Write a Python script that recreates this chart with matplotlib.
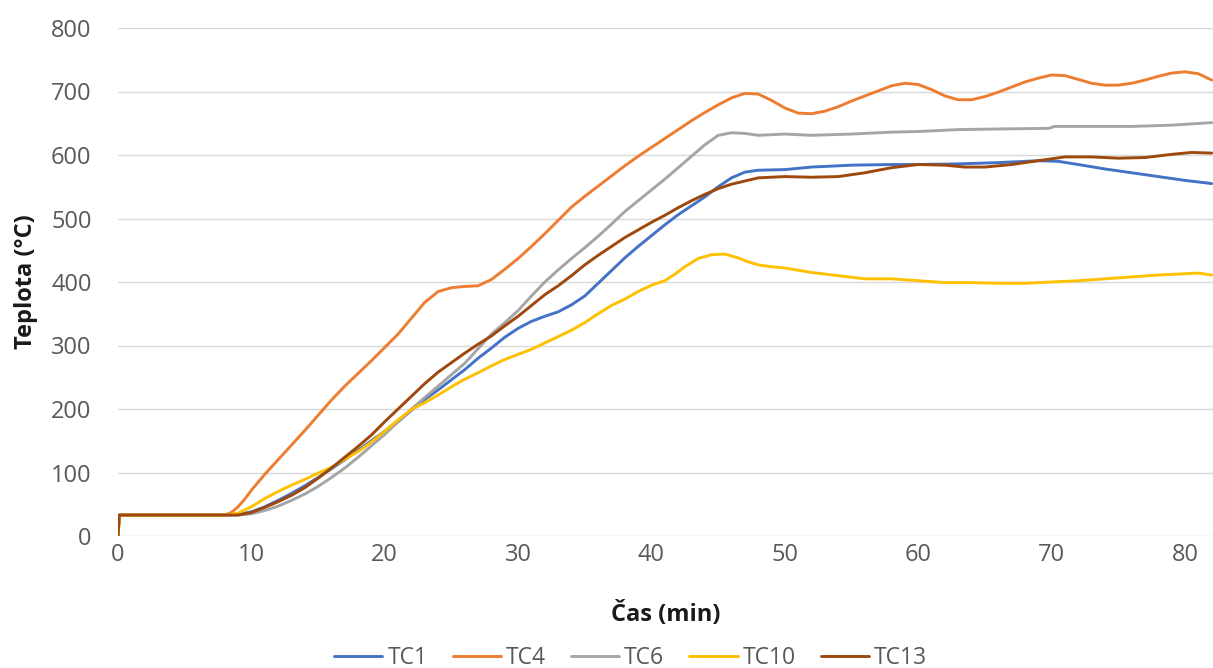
import matplotlib
matplotlib.use("Agg")
import matplotlib.pyplot as plt

# Thermocouple readings: time (min) and temperature (°C)
t_tc1 = [0, 0.1, 8, 9, 10, 11, 12, 13, 14, 15, 16, 17, 18, 19, 20, 21, 22, 23, 24, 25,
         26, 27, 28, 29, 30, 31, 32, 33, 34, 35, 36, 37, 38, 39, 40, 41, 42, 43, 44, 45,
         46, 47, 48, 50, 52, 55, 58, 60, 63, 66, 69, 70.5, 72, 74, 76, 78, 80, 82]
T_tc1 = [0, 33, 33, 34, 38, 46, 56, 67, 79, 92, 106, 120, 135, 150, 165, 180, 198, 215, 230, 246,
         262, 280, 296, 313, 327, 338, 346, 353, 364, 378, 398, 418, 438, 456, 473, 490, 506, 520, 534, 550,
         564, 573, 576, 577, 581, 584, 585, 585, 586, 588, 591, 590, 585, 578, 572, 566, 560, 555]

t_tc4 = [0, 0.1, 8, 8.5, 9, 9.5, 10, 11, 12, 13, 14, 15, 16, 17, 18, 19, 20, 21, 22, 23, 24, 25,
         26, 27, 28, 29, 30, 31, 32, 33, 34, 35, 36, 37, 38, 39, 40, 41, 42, 43, 44, 45,
         46, 47, 48, 49, 50, 51, 52, 53, 54, 55, 56, 57, 58, 59, 60, 61, 62, 63, 64, 65,
         66, 67, 68, 69, 70, 71, 72, 73, 74, 75, 76, 77, 78, 79, 80, 81, 82]
T_tc4 = [0, 33, 33, 37, 46, 58, 72, 97, 120, 143, 166, 190, 214, 236, 256, 276, 297, 318, 343, 368, 385, 391,
         393, 394, 404, 420, 437, 456, 476, 497, 518, 535, 551, 567, 583, 598, 612, 626, 640, 654, 667, 679,
         690, 697, 696, 686, 674, 666, 665, 669, 676, 685, 693, 701, 709, 713, 711, 703, 693, 687, 687, 692,
         699, 707, 715, 721, 726, 725, 719, 713, 710, 710, 713, 718, 724, 729, 731, 728, 718]

t_tc6 = [0, 0.1, 8, 9, 10, 11, 12, 13, 14, 15, 16, 17, 18, 19, 20, 21, 22, 23, 24, 25,
         26, 27, 28, 29, 30, 31, 32, 33, 34, 35, 36, 37, 38, 39, 40, 41, 42, 43, 44, 45,
         46, 47, 48, 50, 52, 55, 58, 60, 63, 66, 69.8, 70.2, 73, 76, 79, 82]
T_tc6 = [0, 33, 33, 33, 35, 40, 47, 56, 66, 78, 92, 107, 124, 142, 160, 180, 200, 218, 236, 254,
         272, 295, 318, 336, 355, 378, 400, 419, 437, 454, 472, 491, 511, 528, 545, 562, 580, 598, 616, 631,
         635, 634, 631, 633, 631, 633, 636, 637, 640, 641, 642, 645, 645, 645, 647, 651]

t_tc10 = [0, 0.1, 8, 9, 10, 11, 12, 13, 14, 15, 16, 17, 18, 19, 20, 21, 22, 23, 24, 25,
          26, 27, 28, 29, 30, 31, 32, 33, 34, 35, 36, 37, 38, 39, 40, 41, 41.8, 42.5, 43.5, 44.5,
          45.5, 46.5, 47.2, 48, 49, 50, 52, 54, 56, 58, 60, 62, 64, 66, 68, 70, 72, 74, 76,
          78, 80, 81, 82]
T_tc10 = [0, 33, 33, 36, 46, 59, 70, 80, 89, 99, 108, 121, 133, 148, 165, 183, 199, 210, 222, 235,
          247, 257, 268, 278, 286, 294, 304, 314, 324, 336, 350, 363, 373, 385, 395, 402, 413, 424, 437, 443,
          444, 438, 432, 427, 424, 422, 415, 410, 405, 405, 402, 399, 399, 398, 398, 400, 402, 405, 408,
          411, 413, 414, 411]

t_tc13 = [0, 0.1, 8, 9, 10, 11, 12, 13, 14, 15, 16, 17, 18, 19, 20, 21, 22, 23, 24, 25,
          26, 27, 28, 29, 30, 31, 32, 33, 34, 35, 36, 37, 38, 39, 40, 41, 42, 43, 44, 45,
          46, 47, 48, 50, 52, 54, 56, 58, 60, 62, 63.5, 65, 67, 69, 71, 73, 75, 77, 79,
          80.5, 82]
T_tc13 = [0, 33, 33, 33, 37, 45, 54, 64, 76, 91, 107, 124, 141, 159, 180, 200, 220, 240, 258, 273,
          288, 302, 315, 331, 346, 363, 380, 394, 410, 427, 442, 456, 470, 482, 494, 505, 517, 528, 538, 547,
          554, 559, 564, 566, 565, 566, 572, 580, 585, 584, 581, 581, 585, 591, 597, 597, 595, 596, 601,
          604, 603]

series_names = ["TC1", "TC4", "TC6", "TC10", "TC13"]
series_colors = ["#4472C4", "#ED7D31", "#A5A5A5", "#FFC000", "#9E480E"]
series_data = [(t_tc1, T_tc1), (t_tc4, T_tc4), (t_tc6, T_tc6), (t_tc10, T_tc10), (t_tc13, T_tc13)]

x_ticks = [0, 10, 20, 30, 40, 50, 60, 70, 80]
y_ticks = [0, 100, 200, 300, 400, 500, 600, 700, 800]

plt.rcParams["font.family"] = ["Open Sans", "DejaVu Sans"]

W, H = 1213, 668
fig = plt.figure(figsize=(W / 100, H / 100), dpi=100)
ax = fig.add_axes([118 / W, (H - 536) / H, (W - 118) / W, (536 - 28) / H])

for (tx, ty), name, col in zip(series_data, series_names, series_colors):
    ax.plot(tx, ty, color=col, lw=2.1, label=name, solid_joinstyle="round",
            solid_capstyle="round")

ax.set_xlim(0, 82.1)
ax.set_ylim(0, 800)
ax.set_xticks(x_ticks)
ax.set_yticks(y_ticks)
ax.grid(axis="y", color="#d9d9d9", lw=1.0)
ax.set_axisbelow(True)
for s in ax.spines.values():
    s.set_visible(False)
ax.tick_params(axis="both", length=0, labelsize=17, labelcolor="#595959")
ax.tick_params(axis="y", pad=19)
ax.tick_params(axis="x", pad=5)

ax.set_xlabel("Čas (min)", fontsize=17, fontweight="bold", color="#1a1a1a", labelpad=25)
ax.set_ylabel("Teplota (°C)", fontsize=17, fontweight="bold", color="#1a1a1a", labelpad=9)

fig.legend(loc="center", bbox_to_anchor=(0.52, 10 / H), ncol=5, frameon=False,
           fontsize=16.5, handlelength=2.1, handletextpad=0.22, columnspacing=1.1,
           labelcolor="#595959")

fig.savefig("out.png", dpi=100)
